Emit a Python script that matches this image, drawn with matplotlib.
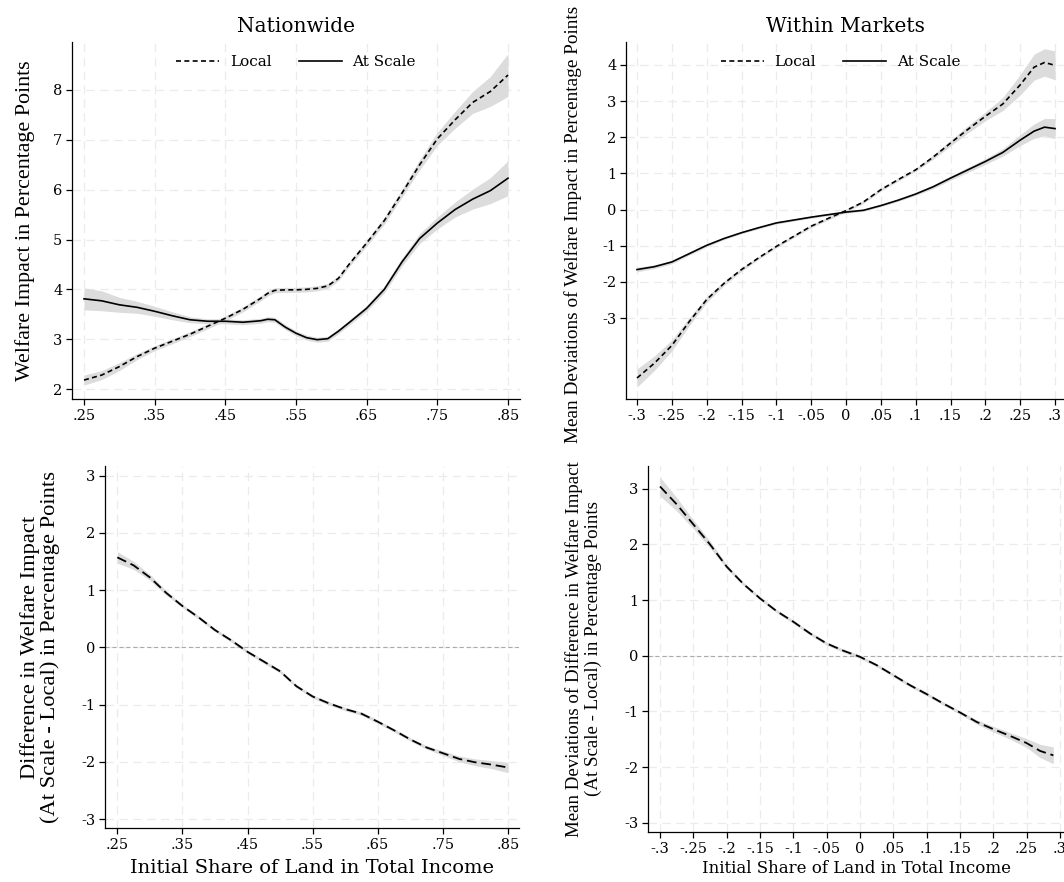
import numpy as np
import matplotlib
matplotlib.use("Agg")
import matplotlib.pyplot as plt
from matplotlib.ticker import FuncFormatter

# the reference is a horizontally stretched Times figure: wide serif for
# horizontal text, Times-metric serif for the rotated axis titles
plt.rcParams['font.family'] = ['DejaVu Serif']
plt.rcParams['lines.scale_dashes'] = False
YFONT = ['Liberation Serif', 'DejaVu Serif']

# --- Nationwide (top left) ---
nat_x = [.25, .275, .30, .325, .35, .375, .40, .425, .45, .475, .50, .51, .52, .535,
         .55, .565, .58, .595, .61, .625, .65, .675, .70, .725, .75, .775, .80, .825, .85]
nat_local = [2.18, 2.28, 2.45, 2.65, 2.82, 2.96, 3.10, 3.26, 3.42, 3.60, 3.82, 3.92, 3.98, 3.99,
             3.99, 4.00, 4.02, 4.07, 4.22, 4.50, 4.93, 5.38, 5.93, 6.50, 7.02, 7.40, 7.75, 7.97, 8.30]
nat_local_ci = [.10, .09, .08, .06, .05, .05, .05, .05, .05, .05, .05, .05, .05, .05,
                .05, .05, .05, .05, .05, .05, .06, .07, .08, .10, .13, .17, .22, .30, .43]
nat_scale = [3.81, 3.77, 3.69, 3.64, 3.56, 3.47, 3.39, 3.36, 3.36, 3.34, 3.37, 3.40, 3.39, 3.24,
             3.12, 3.03, 2.99, 3.01, 3.16, 3.33, 3.62, 4.00, 4.55, 5.02, 5.33, 5.60, 5.81, 5.98, 6.23]
nat_scale_ci = [.22, .20, .15, .12, .10, .08, .06, .05, .05, .05, .05, .05, .05, .05,
                .05, .05, .05, .05, .05, .05, .06, .07, .08, .10, .12, .15, .20, .26, .35]

# --- Within markets (top right) ---
wm_x = [-.3, -.275, -.25, -.225, -.2, -.175, -.15, -.125, -.1, -.075, -.05, -.025, 0,
        .025, .05, .075, .1, .125, .15, .175, .2, .225, .25, .27, .285, .3]
wm_local = [-4.66, -4.25, -3.76, -3.10, -2.49, -2.04, -1.66, -1.33, -1.02, -0.74, -0.46, -0.24, -0.03,
            0.21, 0.55, 0.83, 1.10, 1.45, 1.84, 2.22, 2.58, 2.92, 3.45, 3.94, 4.07, 3.99]
wm_local_ci = [.25, .20, .15, .11, .08, .06, .05, .04, .04, .04, .04, .04, .04,
               .04, .04, .04, .04, .06, .08, .10, .12, .18, .28, .36, .38, .40]
wm_scale = [-1.66, -1.58, -1.45, -1.22, -0.99, -0.80, -0.64, -0.50, -0.37, -0.29, -0.21, -0.14, -0.07,
            -0.02, 0.11, 0.26, 0.43, 0.63, 0.87, 1.10, 1.33, 1.58, 1.92, 2.17, 2.28, 2.24]
wm_scale_ci = [.06, .05, .05, .04, .04, .03, .03, .03, .03, .03, .03, .03, .03,
               .03, .03, .03, .04, .05, .06, .07, .08, .10, .15, .20, .24, .28]

# --- Difference, nationwide (bottom left) ---
dn_x = [.25, .275, .30, .325, .35, .375, .40, .425, .45, .475, .50, .525, .55,
        .575, .60, .625, .65, .675, .70, .725, .75, .775, .80, .825, .85]
dn_diff = [1.57, 1.43, 1.22, 0.95, 0.72, 0.52, 0.30, 0.12, -0.08, -0.25, -0.42, -0.68, -0.86,
           -0.98, -1.08, -1.16, -1.30, -1.45, -1.61, -1.75, -1.85, -1.95, -2.01, -2.05, -2.10]
dn_ci = [.10, .07, .05, .04, .03, .03, .03, .03, .03, .03, .03, .03, .03,
         .03, .03, .03, .03, .03, .03, .03, .04, .05, .06, .07, .09]

# --- Difference, within markets (bottom right) ---
dw_x = [-.3, -.275, -.25, -.225, -.2, -.175, -.15, -.125, -.1, -.075, -.05, -.025, 0,
        .025, .05, .075, .1, .125, .15, .175, .2, .225, .25, .27, .29]
dw_diff = [3.04, 2.72, 2.36, 2.00, 1.60, 1.29, 1.03, 0.80, 0.61, 0.40, 0.22, 0.09, -0.02,
           -0.17, -0.35, -0.53, -0.69, -0.86, -1.02, -1.19, -1.32, -1.44, -1.57, -1.71, -1.79]
dw_ci = [.17, .12, .08, .06, .04, .03, .03, .03, .03, .03, .03, .03, .03,
         .03, .03, .03, .03, .03, .03, .04, .05, .06, .08, .12, .15]

nat_xticks = [.25, .35, .45, .55, .65, .75, .85]
wm_xticks = [-.3, -.25, -.2, -.15, -.1, -.05, 0, .05, .1, .15, .2, .25, .3]

BAND = '#dcdcdc'
GRID = '#ebebeb'


def fmt(v, pos=None):
    s = f"{round(v, 2):g}"
    return s.replace("0.", ".")


def style(ax, xticks, yticks, xlim, ylim):
    ax.set_xlim(*xlim)
    ax.set_ylim(*ylim)
    ax.set_xticks(xticks)
    ax.set_yticks(yticks)
    ax.xaxis.set_major_formatter(FuncFormatter(fmt))
    ax.yaxis.set_major_formatter(FuncFormatter(lambda v, p: f"{int(round(v))}"))
    ax.grid(True, color=GRID, lw=0.9, linestyle=(0, (6, 4)))
    ax.set_axisbelow(True)
    for s in ['top', 'right']:
        ax.spines[s].set_visible(False)
    ax.spines['left'].set_linewidth(0.9)
    ax.spines['bottom'].set_linewidth(0.9)
    ax.tick_params(direction='out', length=4.5, width=0.9, labelsize=10.5, pad=2.5)


def band(ax, x, y, ci, **kw):
    x = np.array(x); y = np.array(y); ci = np.array(ci)
    ax.fill_between(x, y - ci, y + ci, color=BAND, lw=0, zorder=1)
    return ax.plot(x, y, color='black', zorder=2, **kw)[0]


fig = plt.figure(figsize=(10.64, 8.82), dpi=100)
ax1 = fig.add_axes([72/1064, 1-399/882, 448/1064, 357/882])
ax2 = fig.add_axes([626/1064, 1-399/882, 438/1064, 357/882])
ax3 = fig.add_axes([105/1064, 1-828/882, 414/1064, 362/882])
ax4 = fig.add_axes([648/1064, 1-832/882, 416/1064, 366/882])

short_dash = (0, (3.6, 2.4))
long_dash = (0, (7, 3.5))
leg_kw = dict(loc='center', ncol=2, frameon=False, fontsize=11, handlelength=2.8,
              handletextpad=0.7, columnspacing=1.8)

# top left
l1 = band(ax1, nat_x, nat_local, nat_local_ci, lw=1.2, linestyle=short_dash)
l2 = band(ax1, nat_x, nat_scale, nat_scale_ci, lw=1.2)
style(ax1, nat_xticks, range(2, 9), (.233, .867), (1.80, 8.963))
ax1.set_title("Nationwide", fontsize=14.5, pad=7)
ax1.set_ylabel("Welfare Impact in Percentage Points", fontsize=15.8, family=YFONT)
ax1.yaxis.set_label_coords(-0.083, 0.5)
ax1.legend([l1, l2], ["Local", "At Scale"], bbox_to_anchor=(0.5, 0.944), **leg_kw)

# top right
m1 = band(ax2, wm_x, wm_local, wm_local_ci, lw=1.2, linestyle=short_dash)
m2 = band(ax2, wm_x, wm_scale, wm_scale_ci, lw=1.2)
style(ax2, wm_xticks, range(-3, 5), (-.3158, .3129), (-5.241, 4.636))
ax2.set_title("Within Markets", fontsize=14.5, pad=7)
ax2.set_ylabel("Mean Deviations of Welfare Impact in Percentage Points", fontsize=13.9, family=YFONT)
ax2.yaxis.set_label_coords(-0.10, 0.49)
ax2.legend([m1, m2], ["Local", "At Scale"], bbox_to_anchor=(0.49, 0.944), **leg_kw)

# bottom left
ax3.axhline(0, color='#aaaaaa', lw=0.8, linestyle=(0, (3, 2)), zorder=1.5)
band(ax3, dn_x, dn_diff, dn_ci, lw=1.3, linestyle=long_dash)
style(ax3, nat_xticks, range(-3, 4), (.231, .867), (-3.157, 3.166))
ax3.set_ylabel("Difference in Welfare Impact\n(At Scale - Local) in Percentage Points",
               fontsize=16.2, linespacing=1.0, family=YFONT)
ax3.yaxis.set_label_coords(-0.109, 0.5)
ax3.set_xlabel("Initial Share of Land in Total Income", fontsize=14)
ax3.xaxis.set_label_coords(0.5, -0.085)

# bottom right
ax4.axhline(0, color='#aaaaaa', lw=0.8, linestyle=(0, (3, 2)), zorder=1.5)
band(ax4, dw_x, dw_diff, dw_ci, lw=1.3, linestyle=long_dash)
style(ax4, wm_xticks, range(-3, 4), (-.318, .306), (-3.167, 3.408))
ax4.set_ylabel("Mean Deviations of Difference in Welfare Impact\n(At Scale - Local) in Percentage Points",
               fontsize=13.6, linespacing=1.15, family=YFONT)
ax4.yaxis.set_label_coords(-0.111, 0.5)
ax4.set_xlabel("Initial Share of Land in Total Income", fontsize=12)
ax4.xaxis.set_label_coords(0.5, -0.076)

fig.savefig("out.png", dpi=100)
